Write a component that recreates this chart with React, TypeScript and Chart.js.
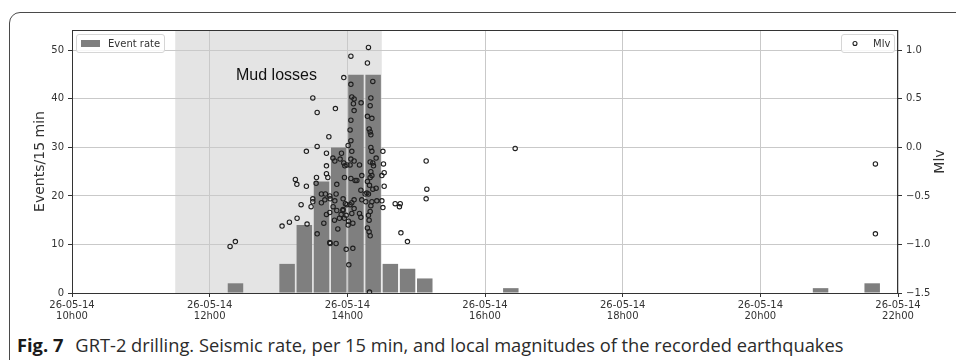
import { useEffect, useRef } from "react";
import { Chart, registerables } from "chart.js";

Chart.register(...registerables);

// ---- data ----
const dateLabel = "26-05-14";
const hourTicks = [0, 120, 240, 360, 480, 600, 720]; // minutes after 10h00
const hourLabels = ["10h00", "12h00", "14h00", "16h00", "18h00", "20h00", "22h00"];
const rateTicks = [0, 10, 20, 30, 40, 50];
const mlvTicks = [-1.5, -1.0, -0.5, 0, 0.5, 1.0];

// 15-minute bins (start, minutes after 10h00) and event counts
const binStarts = [135, 180, 195, 210, 225, 240, 255, 270, 285, 300, 375, 645, 690];
const eventCounts = [2, 6, 14, 23, 30, 45, 45, 6, 5, 3, 1, 1, 2];
const binWidth = 15;

// Mud losses period (minutes after 10h00)
const mudLossStart = 90;
const mudLossEnd = 270;

// local magnitudes: time (minutes after 10h00) and Mlv
const mlvMinutes = [
  137.8, 142.4,
  236.9, 209.9, 213.7, 229.6, 223.9, 204.3, 213.7, 221.8, 234.9, 227.4, 229.1, 236.9, 221.8, 237.8,
  221.8, 223.0, 237.5, 194.7, 196.0, 204.3, 213.1, 212.8, 230.8, 230.2, 217.4, 220.9, 224.7, 209.9,
  209.9, 217.4, 220.4, 229.1, 236.3, 238.3, 199.7, 208.4, 227.6, 221.8, 224.7, 236.3, 234.6, 233.1,
  237.5, 228.8, 196.2, 189.5, 183.1, 204.9, 219.5, 231.7, 213.7, 224.7, 230.2, 239.0, 241.3, 240.7,
  258.4, 243.1, 257.5, 262.2, 243.1, 260.5, 243.9, 245.9, 245.3, 252.0, 259.9, 245.9, 257.5, 261.4,
  243.1, 259.0, 259.9, 260.5, 242.4, 243.1, 260.5, 261.4, 243.9, 265.1, 259.9, 262.2, 262.8, 245.9,
  250.6, 243.1, 252.6, 260.5, 261.4, 259.9, 248.3, 246.8, 243.1, 257.5, 259.3, 262.2, 265.1, 257.0,
  251.8, 255.5, 258.4, 245.9, 243.9, 252.6, 256.1, 261.4, 265.7, 260.5, 245.9, 250.6, 251.8, 259.9,
  258.4, 259.0, 243.9, 244.8, 257.5, 259.0, 259.9, 244.8, 259.3,
  271.0, 271.5, 272.1, 270.1, 272.1, 270.1, 271.0, 281.7, 286.1, 285.4, 286.7, 292.4, 308.7, 309.3,
  308.7, 386.3, 700.3, 700.3,
  240.7, 225.0, 239.0, 241.0, 230.8, 236.1, 239.6, 242.4, 233.7, 239.6, 242.4, 225.0,
];
const mlvValues = [
  -1.02, -0.97,
  0.72, 0.51, 0.36, 0.40, 0.11, -0.04, 0.01, -0.06, -0.06, -0.11, -0.14, -0.16, -0.19, -0.19,
  -0.27, -0.31, -0.31, -0.33, -0.38, -0.40, -0.31, -0.37, -0.38, -0.48, -0.48, -0.48, -0.50, -0.53,
  -0.56, -0.57, -0.54, -0.55, -0.53, -0.58, -0.59, -0.61, -0.61, -0.69, -0.67, -0.64, -0.69, -0.73,
  -0.73, -0.75, -0.73, -0.77, -0.81, -0.79, -0.78, -0.84, -0.89, -0.98, -0.99, -1.05, -1.21, -0.80,
  1.03, 0.94, 0.87, 0.68, 0.65, 0.51, 0.52, 0.50, 0.45, 0.46, 0.43, 0.38, 0.32, 0.30,
  0.28, 0.19, 0.16, 0.13, 0.18, 0.07, 0.00, -0.04, -0.04, -0.11, -0.15, -0.16, -0.19, -0.14,
  -0.18, -0.12, -0.29, -0.25, -0.29, -0.31, -0.34, -0.34, -0.32, -0.35, -0.39, -0.43, -0.42, -0.47,
  -0.44, -0.48, -0.48, -0.54, -0.57, -0.54, -0.56, -0.56, -0.55, -0.60, -0.63, -0.68, -0.72, -0.66,
  -0.70, -0.75, -0.68, -0.78, -0.83, -0.87, -0.91, -1.04, -1.49,
  -0.04, -0.17, -0.26, -0.29, -0.40, -0.55, -0.62, -0.58, -0.58, -0.61, -0.88, -0.97, -0.14, -0.43,
  -0.53, -0.01, -0.17, -0.89,
  0.02, -0.99, -0.70, -0.76, -0.65, -0.65, -0.59, -0.59, -0.12, -0.18, -0.18, -0.53,
];

const TICK_FONT = { family: "'DejaVu Sans'", size: 10, lineHeight: 1.1 };
const GRID = "#c9c9c9";
const INK = "#333333";

const extras = {
  id: "extras",
  beforeDraw(chart: any) {
    const { ctx, chartArea: a, scales } = chart;
    const x0 = scales.x.getPixelForValue(mudLossStart);
    const x1 = scales.x.getPixelForValue(mudLossEnd);
    ctx.save();
    ctx.fillStyle = "#e4e4e4";
    ctx.fillRect(x0, a.top, x1 - x0, a.bottom - a.top);
    ctx.restore();
  },
  afterDraw(chart: any) {
    const { ctx, chartArea: a } = chart;
    ctx.save();
    // frame
    ctx.strokeStyle = "#333";
    ctx.lineWidth = 1;
    ctx.strokeRect(a.left + 0.5, a.top + 0.5, a.right - a.left - 1, a.bottom - a.top);

    // "Mud losses"
    ctx.fillStyle = "#111";
    ctx.font = "16px 'Liberation Sans'";
    ctx.textAlign = "left";
    ctx.textBaseline = "alphabetic";
    ctx.fillText("Mud losses", 236, 80);

    // legend: Event rate
    ctx.beginPath();
    (ctx as any).roundRect(76.5, 34.5, 88, 18, 2.5);
    ctx.fillStyle = "rgba(255,255,255,0.85)";
    ctx.fill();
    ctx.strokeStyle = "#d6d6d6";
    ctx.stroke();
    ctx.fillStyle = "#7f7f7f";
    ctx.fillRect(81, 40, 19, 7);
    ctx.fillStyle = INK;
    ctx.font = "10px 'DejaVu Sans'";
    ctx.textBaseline = "middle";
    ctx.fillText("Event rate", 108, 44);

    // legend: Mlv
    ctx.beginPath();
    (ctx as any).roundRect(841.5, 34.5, 53, 18, 2.5);
    ctx.fillStyle = "rgba(255,255,255,0.85)";
    ctx.fill();
    ctx.strokeStyle = "#d6d6d6";
    ctx.stroke();
    ctx.beginPath();
    ctx.arc(855, 43.5, 2, 0, Math.PI * 2);
    ctx.strokeStyle = "#222";
    ctx.lineWidth = 1.1;
    ctx.stroke();
    ctx.fillStyle = INK;
    ctx.fillText("Mlv", 873, 44);

    // axis titles
    ctx.font = "14px 'DejaVu Sans'";
    ctx.textAlign = "center";
    ctx.textBaseline = "middle";
    ctx.save();
    ctx.translate(40, 161.5);
    ctx.rotate(-Math.PI / 2);
    ctx.fillText("Events/15 min", 0, 0);
    ctx.restore();
    ctx.save();
    ctx.translate(940, 161.5);
    ctx.rotate(-Math.PI / 2);
    ctx.fillText("Mlv", 0, 0);
    ctx.restore();

    ctx.restore();
  },
};

export default function App() {
  const ref = useRef<HTMLCanvasElement | null>(null);

  useEffect(() => {
    if (!ref.current) return;
    const chart = new Chart(ref.current, {
      type: "bar",
      data: {
        datasets: [
          {
            type: "scatter",
            label: "Mlv",
            data: mlvMinutes.map((t, i) => ({ x: t, y: mlvValues[i] })),
            yAxisID: "y1",
            xAxisID: "x",
            pointRadius: 2.2,
            pointBorderWidth: 1.1,
            pointBackgroundColor: "rgba(0,0,0,0)",
            pointBorderColor: "#1e1e1e",
            order: 0,
          } as any,
          {
            type: "bar",
            label: "Event rate",
            data: binStarts.map((s, i) => ({ x: s + binWidth / 2, y: eventCounts[i] })),
            yAxisID: "y",
            xAxisID: "x",
            backgroundColor: "#7f7f7f",
            borderWidth: 0,
            barPercentage: 1,
            categoryPercentage: 0.9,
            order: 1,
          } as any,
        ],
      },
      options: {
        animation: false,
        responsive: false,
        maintainAspectRatio: false,
        layout: { padding: { top: 30, left: 0, right: 0, bottom: 0 } },
        plugins: { legend: { display: false }, tooltip: { enabled: false } },
        scales: {
          x: {
            type: "linear",
            min: 0,
            max: 720,
            offset: false,
            afterBuildTicks: (axis: any) => {
              axis.ticks = hourTicks.map((v) => ({ value: v }));
            },
            afterFit: (axis: any) => {
              axis.height = 37;
            },
            ticks: {
              autoSkip: false,
              maxRotation: 0,
              padding: 3,
              color: INK,
              font: TICK_FONT,
              callback: (v: any) => [dateLabel, hourLabels[hourTicks.indexOf(Number(v))]],
            },
            grid: { offset: false, color: GRID, tickColor: INK, tickLength: 4, lineWidth: 1 },
            border: { display: false },
          },
          y: {
            type: "linear",
            position: "left",
            min: 0,
            max: 54.2,
            afterBuildTicks: (axis: any) => {
              axis.ticks = rateTicks.map((v) => ({ value: v }));
            },
            afterFit: (axis: any) => {
              axis.width = 72;
            },
            ticks: { padding: 4, color: INK, font: TICK_FONT },
            grid: { color: GRID, tickColor: INK, tickLength: 4, lineWidth: 1 },
            border: { display: false },
          },
          y1: {
            type: "linear",
            position: "right",
            min: -1.5,
            max: 1.21,
            afterBuildTicks: (axis: any) => {
              axis.ticks = mlvTicks.map((v) => ({ value: v }));
            },
            afterFit: (axis: any) => {
              axis.width = 58;
            },
            ticks: {
              padding: 4,
              color: INK,
              font: TICK_FONT,
              callback: (v: any) => Number(v).toFixed(1).replace("-", "\u2212"),
            },
            grid: { drawOnChartArea: false, tickColor: INK, tickLength: 4 },
            border: { display: false },
          },
        },
      } as any,
      plugins: [extras],
    });
    return () => chart.destroy();
  }, []);

  return (
    <div
      style={{
        position: "fixed",
        left: 0,
        top: 0,
        width: 956,
        height: 360,
        background: "#fff",
        overflow: "hidden",
      }}
    >
      <div
        style={{
          position: "absolute",
          left: 9,
          top: 12,
          width: 1200,
          height: 600,
          border: "1.3px solid #4a4a4a",
          borderTopLeftRadius: 11,
          boxSizing: "border-box",
        }}
      />
      <canvas
        ref={ref}
        width={956}
        height={330}
        style={{ position: "absolute", left: 0, top: 0, width: 956, height: 330 }}
      />
      <div
        style={{
          position: "absolute",
          left: 17,
          top: 333,
          whiteSpace: "nowrap",
          fontFamily: "'Open Sans', 'Noto Sans', sans-serif",
          fontSize: 18.3,
          lineHeight: "24px",
          color: "#2b2b2b",
        }}
      >
        <span style={{ fontWeight: 700, color: "#1a1a1a" }}>Fig. 7</span>
        <span style={{ marginLeft: 12 }}>
          GRT-2 drilling. Seismic rate, per 15 min, and local magnitudes of the recorded earthquakes
        </span>
      </div>
    </div>
  );
}
